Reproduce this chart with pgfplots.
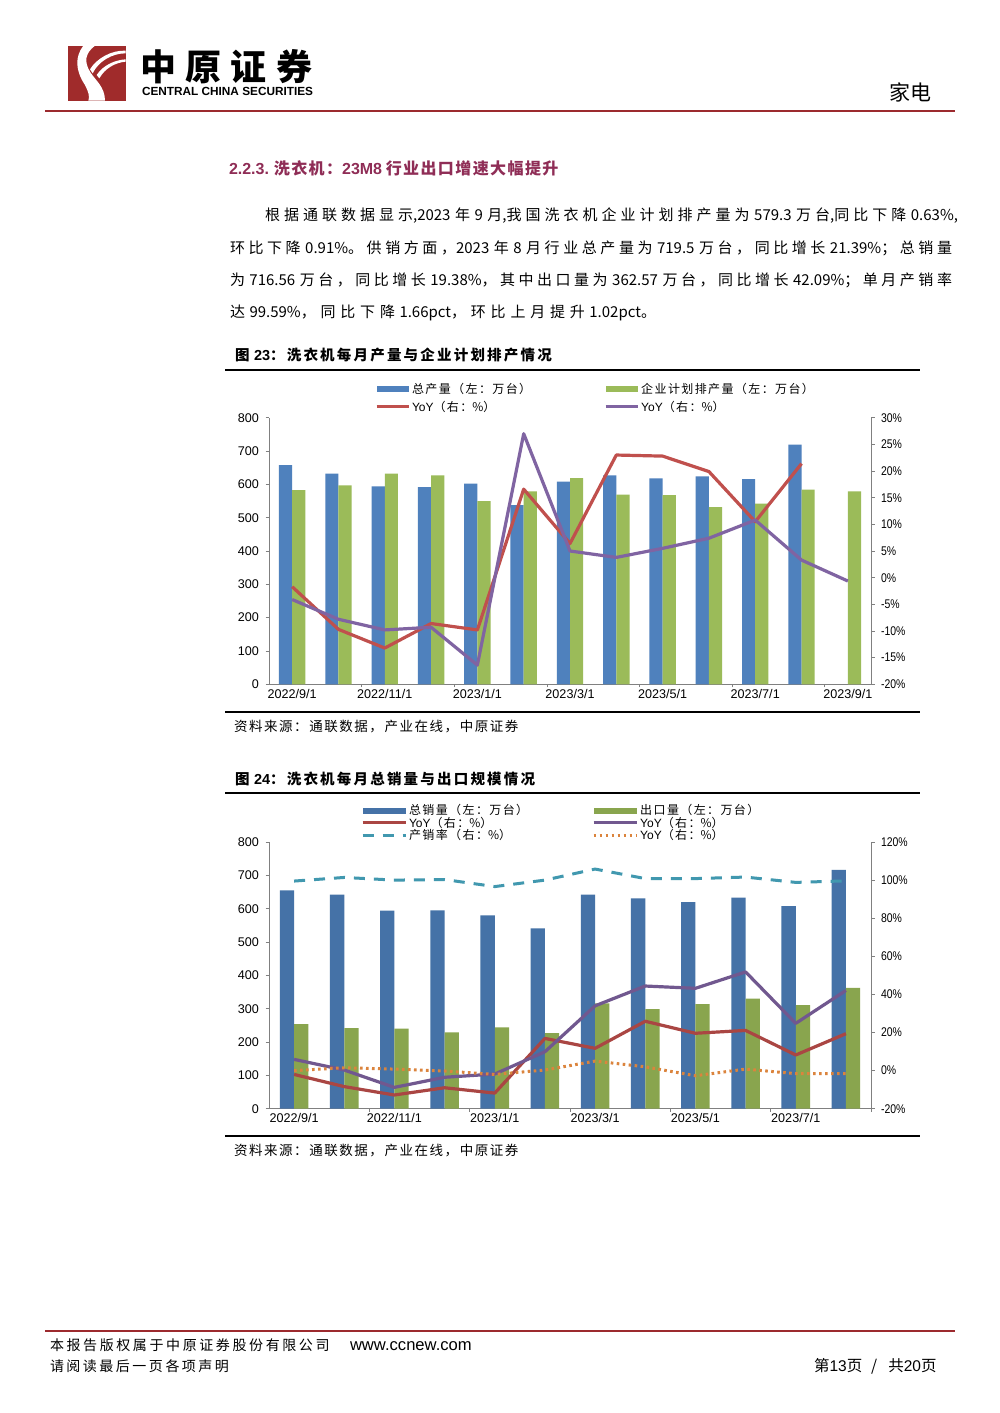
\documentclass[border=0pt]{standalone}
\usepackage{fontspec}
\usepackage{graphicx}
\usepackage{pgfplots}
\pgfplotsset{compat=1.18}
\setmainfont{Noto Sans CJK SC}
\newfontfamily\ls{Liberation Sans}

% stretchable gap between CJK characters
\XeTeXinterchartokenstate=1
\newcount\cc
\cc="4E00 \loop \XeTeXcharclass\cc=5 \advance\cc 1 \ifnum\cc<"A000 \repeat
\cc="3000 \loop \XeTeXcharclass\cc=5 \advance\cc 1 \ifnum\cc<"3040 \repeat
\cc="FF00 \loop \XeTeXcharclass\cc=5 \advance\cc 1 \ifnum\cc<"FFF0 \repeat
\def\cjkgap{0pt}
\XeTeXinterchartoks 5 5 = {\hskip\cjkgap\relax}

\definecolor{zred}{HTML}{A02B2B}
\definecolor{zrule}{HTML}{9C2A2E}
\definecolor{zsec}{HTML}{8F2D56}
\definecolor{cblue}{HTML}{4F81BD}
\definecolor{cgreen}{HTML}{9BBB59}
\definecolor{cred}{HTML}{C0504D}
\definecolor{cpurple}{HTML}{8064A2}
\definecolor{dblue}{HTML}{4572A7}
\definecolor{dgreen}{HTML}{89A54E}
\definecolor{dred}{HTML}{AA4643}
\definecolor{dpurple}{HTML}{71588F}
\definecolor{dteal}{HTML}{4198AF}
\definecolor{dorange}{HTML}{DB843D}

% chart data
\pgfplotstableread{
x prod plan yoya yoyb
0 658 583 -1.7 -4.1
1 632 597 -9.7 -7.8
2 594 632 -13.2 -9.8
3 592 627 -8.6 -9.3
4 602 550 -9.8 -16.4
5 538 579 16.6 27.0
6 608 619 6.4 5.0
7 627 569 23.0 3.8
8 618 568 22.8 5.5
9 624 532 19.9 7.4
10 616 542 10.5 10.8
11 719.5 584 21.39 3.3
12 nan 579.3 nan -0.63
}\tableA
\pgfplotstableread{
x sales exp yoya yoyb rate yoyc
0 655 254 -2.0 5.9 99.5 0.0
1 642 242 -8.4 0.3 101.4 1.5
2 594 240 -12.8 -8.8 100.0 0.8
3 595 229 -9.0 -3.5 100.3 -0.2
4 580 244 -11.8 -1.8 96.6 -2.0
5 541 227 16.9 9.9 100.0 0.3
6 642 316 11.7 34.0 105.8 5.0
7 631 299 25.9 44.4 100.8 2.0
8 620 314 19.6 43.2 100.8 -2.7
9 633 330 21.1 51.8 101.6 0.8
10 608 311 8.2 24.8 98.8 -1.6
11 716.56 362.57 19.38 42.09 99.6 -1.6
}\tableB

\newcommand{\T}[3]{\node[anchor=west,inner sep=0pt,outer sep=0pt] at (#1pt,-#2pt) {#3};}
\newcommand{\Fs}[1]{\fontsize{#1}{#1}\selectfont}
\newcommand{\Fg}[2]{\fontsize{#1}{#1}\selectfont\def\cjkgap{#2}}

\pgfplotsset{
  barkey/.style={legend image code/.code={\fill[##1,draw=none] (0pt,-3pt) rectangle (#1,3pt);}},
  linekey/.style={legend image code/.code={\draw[##1] (0pt,0pt) -- (#1,0pt);}},
  pagechart/.style={
    scale only axis, width=602pt,
    axis line style={draw=black!50, line width=0.8pt},
    tick style={draw=black!50, line width=0.7pt},
    tick label style={font=\ls\fontsize{12.6}{12.6}\selectfont, /pgf/number format/assume math mode=true},
  },
  leftaxis/.style={
    axis y line*=left, axis x line*=bottom,
    ymin=0, ymax=800, ytick={0,100,...,800},
    yticklabel style={xshift=-3pt},
    tick align=outside, major tick length=3.5pt,
    xtick pos=bottom,
    minor x tick style={draw=black!50}, x tick style={draw=none},
    xticklabel style={yshift=2pt},
    ybar, enlarge x limits=false,
    legend cell align=left,
    legend style={draw=none, fill=none, inner sep=0pt, outer sep=0pt,
      font=\Fg{12}{1.4pt}},
  },
  rightaxis/.style={
    axis y line*=right, axis x line=none,
    tick align=outside, major tick length=3.5pt,
    yticklabel style={xshift=3pt},
    yticklabel={\scalebox{0.83}[1]{\pgfmathprintnumber{\tick}\%}},
    enlarge x limits=false,
  },
}

\begin{document}
\begin{tikzpicture}[x=1pt,y=1pt]
\fill[white] (0,0) rectangle (1000,-1413);
\path[use as bounding box] (0,0) rectangle (1000,-1413);

% logo
\begin{scope}[shift={(40,-30)},x=0.3333pt,y=-0.3333pt]
  \fill[zred] (83,47) rectangle (257,212);
  \fill[white] (130,47) .. controls (105,80) and (105,120) .. (135,165)
    .. controls (145,185) and (150,200) .. (145,212) -- (195,212)
    .. controls (195,170) and (165,150) .. (150,125)
    .. controls (132,95) and (135,70) .. (165,47) -- cycle;
  \fill[white] (150,118) .. controls (170,85) and (215,60) .. (257,62) -- (257,70)
    .. controls (215,70) and (175,95) .. (158,130) -- cycle;
  \fill[white] (170,135) .. controls (190,105) and (225,90) .. (257,88) -- (257,95)
    .. controls (225,98) and (195,115) .. (178,145) -- cycle;
\end{scope}
\T{140}{67}{\Fg{36}{9.5pt}\bfseries 中原证券}
\T{142}{91}{\ls\Fs{11.8}\bfseries CENTRAL CHINA SECURITIES}
\T{889}{92}{\Fs{21}家电}
\draw[zrule,line width=2pt] (45,-111) -- (955,-111);

% text above charts
\T{229}{168}{\color{zsec}\Fg{16}{1.4pt}\bfseries{\ls 2.2.3.} 洗衣机：{\ls 23M8} 行业出口增速大幅提升}
\spaceskip=4.5pt\relax
\T{265}{215.5}{\Fg{15}{1pt plus 6pt}\spaceskip=4.5pt\hbox to 693pt{根据通联数据显示,2023 年 9 月,我国洗衣机企业计划排产量为 579.3 万台,同比下降 0.63\%,}}
\T{230}{248}{\Fg{15}{1pt plus 6pt}\spaceskip=4.5pt\hbox to 722pt{环比下降 0.91\%。供销方面，2023 年 8 月行业总产量为 719.5 万台，同比增长 21.39\%；总销量}}
\T{230}{280.5}{\Fg{15}{1pt plus 6pt}\spaceskip=4.5pt\hbox to 722pt{为 716.56 万台，同比增长 19.38\%，其中出口量为 362.57 万台，同比增长 42.09\%；单月产销率}}
\T{230}{313}{\Fg{15}{1pt plus 6pt}\spaceskip=4.5pt\hbox to 426pt{达 99.59\%，同比下降 1.66pct，环比上月提升 1.02pct。}}

% figure 23 header and footer
\T{235}{355}{\Fg{14.5}{2.2pt}\bfseries 图 {\ls 23}：洗衣机每月产量与企业计划排产情况}
\draw[black,line width=2pt] (225,-369.5) -- (920,-369.5);
\draw[black,line width=2pt] (225,-712) -- (920,-712);
\T{234}{726.5}{\Fg{13.5}{1.55pt}资料来源：通联数据，产业在线，中原证券}

\begin{axis}[pagechart, leftaxis, name=a1, at={(269pt,-684.3pt)}, anchor=south west,
  height=266.6pt, xmin=-0.5, xmax=12.5,
  bar width=13.2pt, ybar=0pt,
  xtick={0,2,...,12},
  xticklabels={2022/9/1,2022/11/1,2023/1/1,2023/3/1,2023/5/1,2023/7/1,2023/9/1},
  minor xtick={1.5,3.5,...,11.5}, minor tick length=3pt,
  legend columns=2,
  legend style={row sep=2pt, at={(106pt,303pt)}, anchor=north west,
    /tikz/every even column/.append style={column sep=71pt}},
  ]
  \addplot[barkey=32pt, fill=cblue, draw=none] table[x=x,y=prod] {\tableA};
  \addplot[barkey=32pt, fill=cgreen, draw=none] table[x=x,y=plan] {\tableA};
  \addlegendimage{linekey=32pt, color=cred, line width=3pt}
  \addlegendimage{linekey=32pt, color=cpurple, line width=3pt}
  \legend{总产量（左：万台）,企业计划排产量（左：万台）,{\ls YoY}（右：\%）,{\ls YoY}（右：\%）}
\end{axis}
\begin{axis}[pagechart, rightaxis, at={(269pt,-684.3pt)}, anchor=south west,
  height=266.6pt, xmin=-0.5, xmax=12.5,
  ymin=-20, ymax=30, ytick={-20,-15,...,30},
  ]
  \addplot[color=cred, line width=3.2pt, line join=round] table[x=x,y=yoya] {\tableA};
  \addplot[color=cpurple, line width=3.2pt, line join=round] table[x=x,y=yoyb] {\tableA};
\end{axis}

% figure 24 header and footer
\T{235}{779}{\Fg{14.5}{2.2pt}\bfseries 图 {\ls 24}：洗衣机每月总销量与出口规模情况}
\draw[black,line width=2pt] (225,-793) -- (920,-793);
\draw[black,line width=2pt] (225,-1135.5) -- (920,-1135.5);
\T{234}{1151}{\Fg{13.5}{1.55pt}资料来源：通联数据，产业在线，中原证券}

\begin{axis}[pagechart, leftaxis, name=a2, at={(269pt,-1108.7pt)}, anchor=south west,
  height=266.7pt, xmin=-0.5, xmax=11.5,
  bar width=14.3pt, ybar=0pt,
  xtick={0,2,...,10},
  xticklabels={2022/9/1,2022/11/1,2023/1/1,2023/3/1,2023/5/1,2023/7/1},
  minor xtick={1.5,3.5,...,11.5}, minor tick length=3pt,
  legend columns=2,
  legend style={row sep=-3.5pt, at={(92pt,306pt)}, anchor=north west,
    /tikz/every even column/.append style={column sep=62pt}},
  ]
  \addplot[barkey=43pt, fill=dblue, draw=none] table[x=x,y=sales] {\tableB};
  \addplot[barkey=43pt, fill=dgreen, draw=none] table[x=x,y=exp] {\tableB};
  \addlegendimage{linekey=43pt, color=dred, line width=3pt}
  \addlegendimage{linekey=43pt, color=dpurple, line width=3pt}
  \addlegendimage{linekey=43pt, color=dteal, line width=3pt, dash pattern=on 11pt off 9pt}
  \addlegendimage{linekey=43pt, color=dorange, line width=3pt, dash pattern=on 2.6pt off 3.4pt}
  \legend{总销量（左：万台）,出口量（左：万台）,{\ls YoY}（右：\%）,{\ls YoY}（右：\%）,产销率（右：\%）,{\ls YoY}（右：\%）}
\end{axis}
\begin{axis}[pagechart, rightaxis, at={(269pt,-1108.7pt)}, anchor=south west,
  height=266.7pt, xmin=-0.5, xmax=11.5,
  ymin=-20, ymax=120, ytick={-20,0,...,120},
  ]
  \addplot[color=dred, line width=3.2pt, line join=round] table[x=x,y=yoya] {\tableB};
  \addplot[color=dpurple, line width=3.2pt, line join=round] table[x=x,y=yoyb] {\tableB};
  \addplot[color=dteal, line width=3pt, dash pattern=on 11pt off 9pt] table[x=x,y=rate] {\tableB};
  \addplot[color=dorange, line width=3pt, dash pattern=on 2.6pt off 3.4pt] table[x=x,y=yoyc] {\tableB};
\end{axis}

% page footer
\draw[zrule,line width=2pt] (45,-1331) -- (955,-1331);
\T{50}{1345}{\Fg{14}{2.6pt}本报告版权属于中原证券股份有限公司}
\T{350}{1346}{\ls\Fs{16.6}www.ccnew.com}
\T{50}{1366}{\Fg{14}{2.5pt}请阅读最后一页各项声明}
\T{814}{1366}{\Fs{15.5}第{\ls 13}页\hspace{9pt}/\hspace{11pt}共{\ls 20}页}
\end{tikzpicture}
\end{document}
